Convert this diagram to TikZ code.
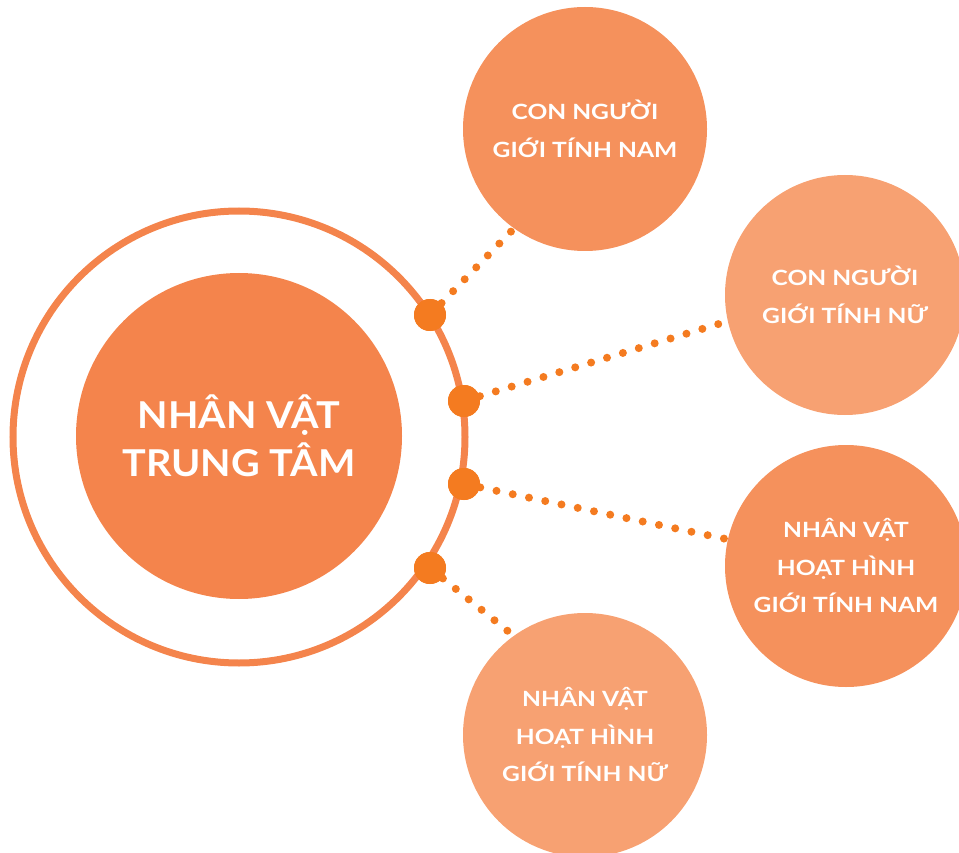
\documentclass[tikz,border=0pt]{standalone}
\usepackage{fontspec}
\setmainfont{Lato}[UprightFont=* Bold]
\newfontfamily\bubfont{Lato}[UprightFont=* Bold, FakeStretch=1.17]
\newfontfamily\ctrfont{Lato}[UprightFont=* Bold, FakeStretch=1.07]
\definecolor{ringc}{HTML}{F4844C}
\definecolor{centerc}{HTML}{F4844C}
\definecolor{darkc}{HTML}{F5915C}
\definecolor{lightc}{HTML}{F7A172}
\definecolor{dotc}{HTML}{F47B20}
\tikzset{
  bubble/.style={circle, inner sep=0pt, minimum size=244pt, text=white, align=center,
    font=\bubfont\fontsize{21}{37.5}\selectfont},
  hub/.style={circle, fill=dotc, inner sep=0pt, minimum size=32pt},
  dotline/.style={draw=dotc, line width=8pt, line cap=round, dash pattern=on 0pt off 16.6pt},
}
\begin{document}
\begin{tikzpicture}[x=1pt,y=-1pt]
\useasboundingbox (0,0) rectangle (959,853);
% outer ring
\draw[ringc, line width=7pt] (239,437) circle (226);
% centre
\node[circle, fill=centerc, minimum size=326pt, inner sep=0pt, text=white, align=center,
  font=\ctrfont\fontsize{37}{48}\selectfont] (c) at (239,436) {NHÂN VẬT\\TRUNG TÂM};
% hubs
\node[hub] (h1) at (430,315) {};
\node[hub] (h2) at (464,401) {};
\node[hub] (h3) at (464,484) {};
\node[hub] (h4) at (430,568) {};
% connector ends
\coordinate (e1) at (530,212);
\coordinate (e2) at (745,316);
\coordinate (e3) at (745,543);
\coordinate (e4) at (525,645);
\draw[dotline] (h1.center) -- (e1);
\draw[dotline] (h2.center) -- (e2);
\draw[dotline] (h3.center) -- (e3);
\draw[dotline] (h4.center) -- (e4);
\node[hub] at (h1) {};
\node[hub] at (h2) {};
\node[hub] at (h3) {};
\node[hub] at (h4) {};
% bubbles
\node[bubble, fill=darkc] (b1) at (585,129) {CON NGƯỜI\\GIỚI TÍNH NAM};
\node[bubble, fill=lightc, minimum size=240pt] (b2) at (845,295) {CON NGƯỜI\\GIỚI TÍNH NỮ};
\node[bubble, fill=darkc, minimum size=242pt] (b3) at (846,566) {NHÂN VẬT\\HOẠT HÌNH\\GIỚI TÍNH NAM};
\node[bubble, fill=lightc] (b4) at (585,735) {NHÂN VẬT\\HOẠT HÌNH\\GIỚI TÍNH NỮ};
\end{tikzpicture}
\end{document}
